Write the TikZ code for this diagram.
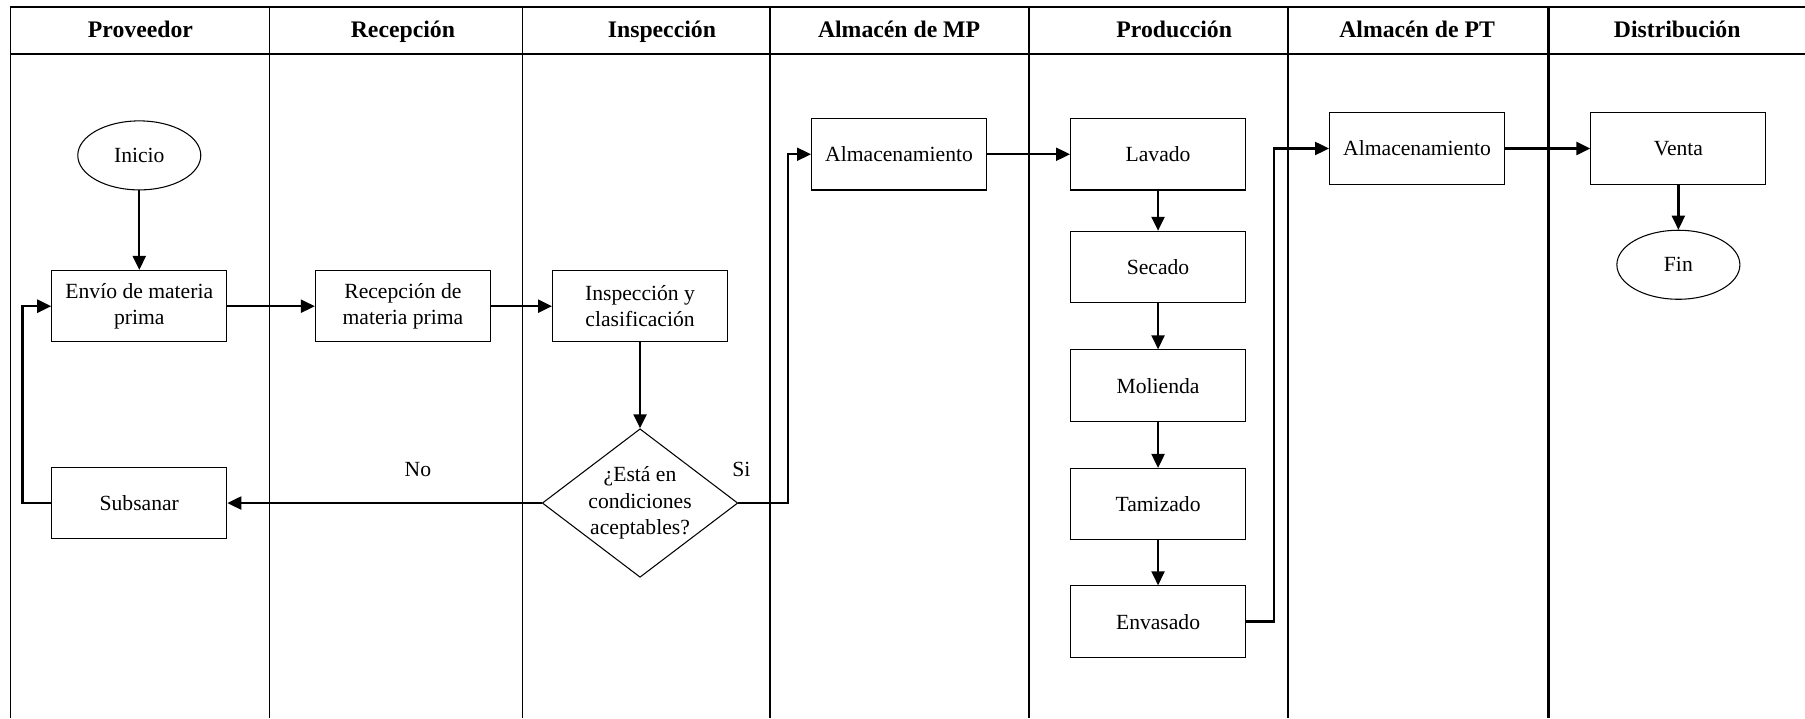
\documentclass[tikz,border=0pt]{standalone}
\usepackage{fontspec}
\setmainfont{Liberation Serif}
\usepackage{tikz}
\usetikzlibrary{shapes.geometric, arrows.meta, positioning, calc}
\definecolor{mydark}{RGB}{0,0,0}
\tikzset{
  lanehead/.style={font=\fontsize{13.5}{16}\selectfont\bfseries,
    text height=9.5pt, text depth=3pt},
  procbox/.style={rectangle, draw=mydark, align=center,
    minimum width=3.5cm, minimum height=1.43cm,
    font=\fontsize{12.3}{15}\selectfont, line width=0.6pt},
  termnode/.style={ellipse, draw=mydark, minimum width=2.46cm,
    minimum height=1.38cm, font=\fontsize{12.3}{15}\selectfont, line width=0.6pt},
  decision/.style={diamond, draw=mydark, align=center, inner sep=-2pt,
    aspect=1.32, minimum width=3.91cm, minimum height=2.97cm,
    font=\fontsize{12.3}{15}\selectfont, line width=0.6pt},
  flowlabel/.style={font=\fontsize{12.3}{15}\selectfont},
  arrow/.style={-{Triangle[length=2.8mm, width=2.6mm]}, line width=1.3pt, color=mydark},
  lane/.style={line width=0.8pt, color=mydark},
  thicklane/.style={line width=1.7pt, color=mydark}
}

\begin{document}
\begin{tikzpicture}[x=0.2302mm, y=-0.2302mm]
  \useasboundingbox (0,0) rectangle (1568,624);
  % lanes
  \draw[lane] (9,6) -- (1568,6);
  \draw[lane] (9,47) -- (1568,47);
  \foreach \x in {9,234,454,669,894,1119}
    \draw[lane] (\x,6) -- (\x,624);
  \draw[thicklane] (1345,6) -- (1345,624);
  % lane titles
  \node[lanehead] (hprov) at (122,28) {Proveedor};
  \node[lanehead] (hrecep) at (350,28) {Recepción};
  \node[lanehead] (hinsp) at (575,28) {Inspección};
  \node[lanehead] (hmp) at (781,28) {Almacén de MP};
  \node[lanehead] (hprod) at (1020,28) {Producción};
  \node[lanehead] (hpt) at (1231,28) {Almacén de PT};
  \node[lanehead] (hdist) at (1457,28) {Distribución};
  % steps
  \node[termnode] (inicio) at (121,135) {Inicio};
  \node[procbox] (envio) at (121,266) {Envío de materia\\prima};
  \node[procbox] (recep) at (350,266) {Recepción de\\materia prima};
  \node[procbox] (insp) at (556,266) {Inspección y\\clasificación};
  \node[decision] (cond) at (556,437) {¿Está en\\condiciones\\aceptables?};
  \node[procbox] (subsanar) at (121,437) {Subsanar};
  \node[procbox] (almmp) at (781,134) {Almacenamiento};
  \node[procbox] (lavado) at (1006,134) {Lavado};
  \node[procbox] (secado) at (1006,232) {Secado};
  \node[procbox] (molienda) at (1006,335) {Molienda};
  \node[procbox] (tamizado) at (1006,438) {Tamizado};
  \node[procbox] (envasado) at (1006,540) {Envasado};
  \node[procbox] (almpt) at (1231,129) {Almacenamiento};
  \node[procbox] (venta) at (1458,129) {Venta};
  \node[termnode] (fin) at (1458,230) {Fin};
  \node[flowlabel] (lblno) at (363,408) {No};
  \node[flowlabel] (lblsi) at (644,408) {Si};
  % flow
  \draw[arrow] (inicio) -- (envio);
  \draw[arrow] (envio) -- (recep);
  \draw[arrow] (recep) -- (insp);
  \draw[arrow] (insp) -- (cond);
  \draw[arrow] (cond.west) -- (subsanar.east);
  \draw[arrow] (subsanar.west) -- ++(-25,0) |- (envio.west);
  \draw[arrow] (cond.east) -- ++(43,0) |- (almmp.west);
  \draw[arrow] (almmp) -- (lavado);
  \draw[arrow] (lavado) -- (secado);
  \draw[arrow] (secado) -- (molienda);
  \draw[arrow] (molienda) -- (tamizado);
  \draw[arrow] (tamizado) -- (envasado);
  \draw[arrow] (envasado.east) -- ++(24,0) |- (almpt.west);
  \draw[arrow] (almpt) -- (venta);
  \draw[arrow] (venta) -- (fin);
\end{tikzpicture}
\end{document}
